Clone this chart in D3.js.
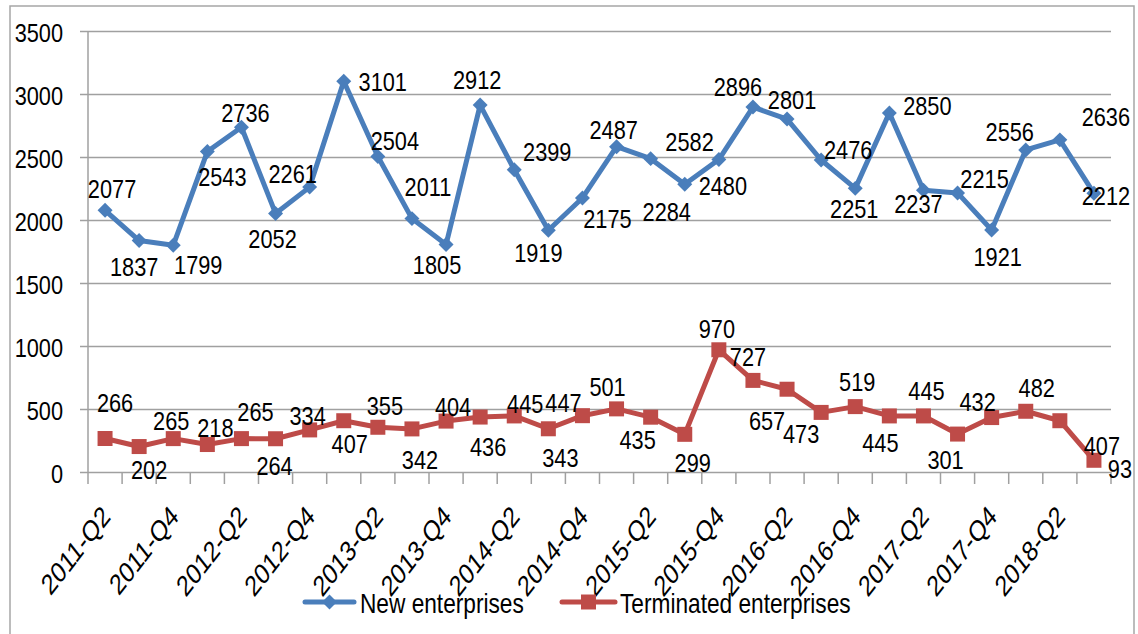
<!DOCTYPE html>
<html>
<head>
<meta charset="utf-8">
<script src="https://cdn.jsdelivr.net/npm/d3@7"></script>
<style>
  html, body { margin: 0; padding: 0; background: #fff; }
  svg { display: block; }
  text { font-family: "Liberation Sans", Arial, sans-serif; fill: #000; }
</style>
</head>
<body>
<svg id="chart" width="1138" height="634"></svg>
<script>
// ---------- DATA ----------
const categories = [
  "2011-Q2","2011-Q3","2011-Q4","2012-Q1","2012-Q2","2012-Q3","2012-Q4","2013-Q1",
  "2013-Q2","2013-Q3","2013-Q4","2014-Q1","2014-Q2","2014-Q3","2014-Q4","2015-Q1",
  "2015-Q2","2015-Q3","2015-Q4","2016-Q1","2016-Q2","2016-Q3","2016-Q4","2017-Q1",
  "2017-Q2","2017-Q3","2017-Q4","2018-Q1","2018-Q2","2018-Q3"
];
const newEnterprises = [
  2077,1837,1799,2543,2736,2052,2261,3101,2504,2011,
  1805,2912,2399,1919,2175,2582,2487,2284,2480,2896,
  2801,2476,2251,2850,2237,2215,1921,2556,2636,2212
];
const terminatedEnterprises = [
  266,202,265,218,265,264,334,407,355,342,
  404,436,445,343,447,501,435,299,970,727,
  657,473,519,445,445,301,432,482,407,93
];
const xTickLabels = [
  "2011-Q2","2011-Q4","2012-Q2","2012-Q4","2013-Q2","2013-Q4","2014-Q2","2014-Q4",
  "2015-Q2","2015-Q4","2016-Q2","2016-Q4","2017-Q2","2017-Q4","2018-Q2"
];
const yTickValues = [0,500,1000,1500,2000,2500,3000,3500];
const seriesNames = ["New enterprises","Terminated enterprises"];

// label placement offsets (relative to each point), kept apart from the data
const newLabelOffsets = [
  [7,-21],[-5,26],[25,20],[15,25],[4,-14],[-3,26],[-17,-13],[39,1],[17,-15],[16,-32],
  [-9,20],[-3,-25],[33,-18],[-10,23],[25,21],[73,-5],[-37,-29],[-18,28],[4,26],[-15,-20],
  [5,-19],[27,-10],[-1,21],[38,-7],[-5,14],[27,-14],[6,27],[-16,-18],[46,-23],[12,3]
];
const termLabelOffsets = [
  [10,-35],[10,23],[-2,-18],[8,-17],[14,-27],[-1,27],[-2,-14],[6,23],[7,-21],[8,31],
  [7,-14],[8,30],[11,-12],[12,29],[-19,-13],[-9,-22],[-13,23],[8,29],[-2,-21],[-5,-23],
  [-20,32],[-20,22],[2,-25],[-9,27],[3,-25],[-12,26],[-14,-16],[11,-23],[42,25],[26,9]
];

// ---------- LAYOUT ----------
const svg = d3.select("#chart");
const plotLeft = 88, plotRight = 1111, plotTop = 31, plotBottom = 472;
const blue = "#4A7EBB", red = "#BE4B48", grid = "#A0A0A0";
const SQ = 0.87;   // horizontal squeeze of the text (narrow look of the original)

const x = d3.scaleBand().domain(categories).range([plotLeft, plotRight]).padding(0);
const xc = c => x(c) + x.bandwidth() / 2;
const y = d3.scaleLinear().domain([0, 3500]).range([plotBottom, plotTop]);

// outer frame
svg.append("rect").attr("x", 10).attr("y", 6).attr("width", 1124).attr("height", 700)
  .attr("fill", "none").attr("stroke", "#A6A6A6").attr("stroke-width", 1.5);

// y axis with gridlines
const yAxis = d3.axisLeft(y).tickValues(yTickValues).tickFormat(d3.format("d"))
  .tickSize(-(plotRight - plotLeft + 8)).tickPadding(0);
const gy = svg.append("g").attr("transform", `translate(${plotLeft - 8},0)`).call(yAxis);
gy.select(".domain").remove();
gy.selectAll(".tick line").attr("stroke", grid).attr("stroke-width", 1.5);
gy.selectAll(".tick text").attr("font-size", 25).attr("x", 0).attr("dy", "0.4em")
  .style("font-family", '"Liberation Sans", Arial, sans-serif').attr("fill", "#000")
  .attr("transform", `translate(-17,0) scale(${SQ},1)`);

// vertical axis line
svg.append("line").attr("x1", plotLeft).attr("x2", plotLeft).attr("y1", plotTop).attr("y2", plotBottom)
  .attr("stroke", grid).attr("stroke-width", 1.5);

// x axis boundary ticks
const boundaries = categories.map(c => x(c)).concat([plotRight]);
svg.append("g").selectAll("line").data(boundaries).join("line")
  .attr("x1", d => d).attr("x2", d => d).attr("y1", plotBottom).attr("y2", plotBottom + 12)
  .attr("stroke", grid).attr("stroke-width", 1.5);

// x tick labels (rotated, compressed like the original)
const xAxis = d3.axisBottom(x).tickValues(xTickLabels).tickSize(0);
const gx = svg.append("g").attr("transform", `translate(0,${plotBottom})`).call(xAxis);
gx.select(".domain").remove();
gx.selectAll(".tick text")
  .attr("font-size", 29)
  .style("font-family", '"Liberation Sans", Arial, sans-serif')
  .attr("fill", "#000")
  .attr("text-anchor", "end")
  .attr("x", 0).attr("y", 0).attr("dy", "0.35em")
  .attr("transform", "translate(1,39) scale(0.78,1) rotate(-45)");

// series lines
const line = vals => d3.line().x((d, i) => xc(categories[i])).y(d => y(d))(vals);
svg.append("path").attr("d", line(terminatedEnterprises)).attr("fill", "none")
  .attr("stroke", red).attr("stroke-width", 5).attr("stroke-linejoin", "round");
svg.append("path").attr("d", line(newEnterprises)).attr("fill", "none")
  .attr("stroke", blue).attr("stroke-width", 5).attr("stroke-linejoin", "round");

// markers
const diamond = d3.symbol().type(d3.symbolSquare).size(112);
const square = d3.symbol().type(d3.symbolSquare).size(225);
svg.append("g").selectAll("path").data(newEnterprises).join("path")
  .attr("d", diamond)
  .attr("transform", (d, i) => `translate(${xc(categories[i])},${y(d)}) rotate(45)`)
  .attr("fill", blue);
svg.append("g").selectAll("path").data(terminatedEnterprises).join("path")
  .attr("d", square)
  .attr("transform", (d, i) => `translate(${xc(categories[i])},${y(d)})`)
  .attr("fill", red);

// data labels
function labels(vals, offs) {
  svg.append("g").selectAll("text").data(vals).join("text")
    .attr("transform", (d, i) =>
      `translate(${xc(categories[i]) + offs[i][0]},${y(d) + offs[i][1]}) scale(${SQ},1)`)
    .attr("dy", "0.36em")
    .attr("text-anchor", "middle")
    .attr("font-size", 25)
    .text(d => d);
}
labels(newEnterprises, newLabelOffsets);
labels(terminatedEnterprises, termLabelOffsets);

// legend
const lg = svg.append("g");
const legendItems = [
  { name: seriesNames[0], color: blue, sym: diamond, rot: 45, x1: 305, x2: 354, tx: 360 },
  { name: seriesNames[1], color: red, sym: square, rot: 0, x1: 562, x2: 615, tx: 620 }
];
legendItems.forEach(it => {
  const ly = 602;
  lg.append("line").attr("x1", it.x1).attr("x2", it.x2).attr("y1", ly).attr("y2", ly)
    .attr("stroke", it.color).attr("stroke-width", 5).attr("stroke-linecap", "round");
  lg.append("path").attr("d", it.sym)
    .attr("transform", `translate(${(it.x1 + it.x2) / 2},${ly}) rotate(${it.rot})`)
    .attr("fill", it.color);
  lg.append("text").attr("transform", `translate(${it.tx},613) scale(0.81,1)`)
    .attr("font-size", 28).text(it.name);
});
</script>
</body>
</html>
